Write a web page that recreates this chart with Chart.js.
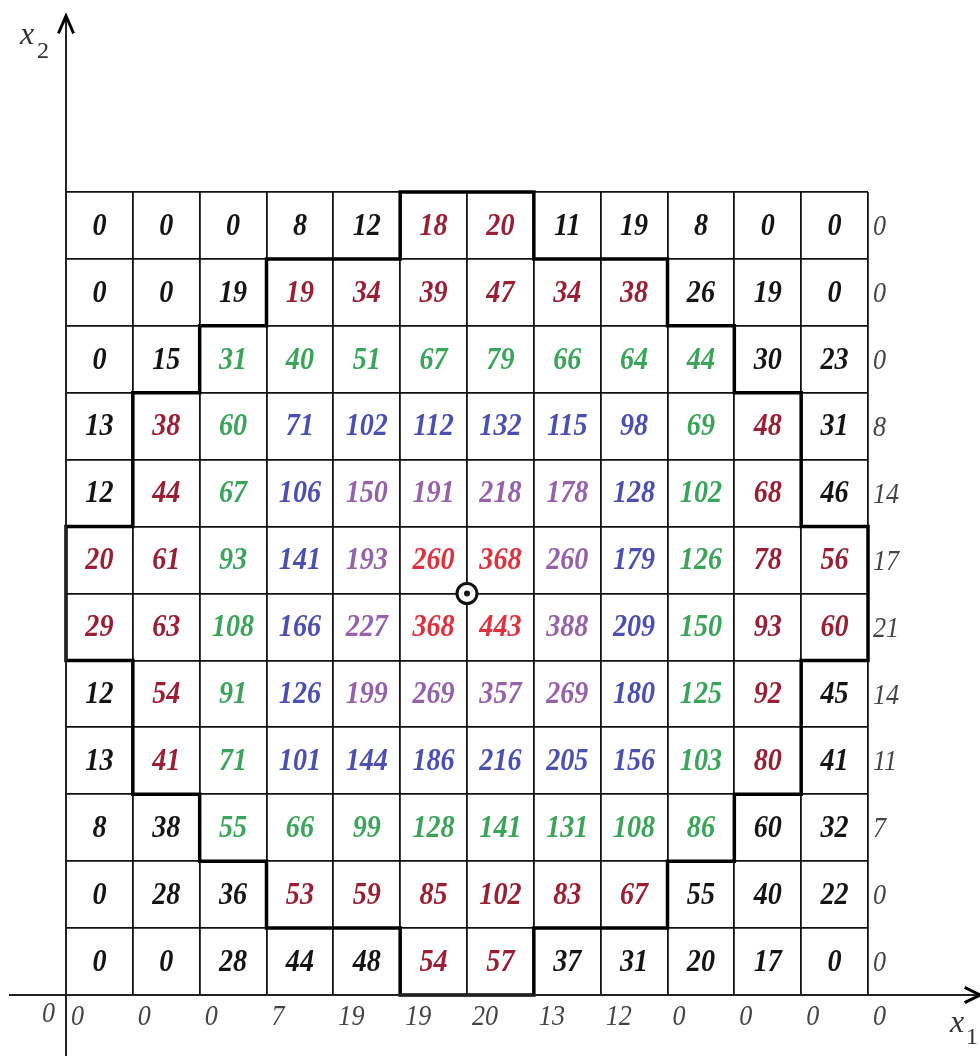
<!DOCTYPE html>
<html>
<head>
<meta charset="utf-8">
<script src="https://cdn.jsdelivr.net/npm/chart.js@4.4.1/dist/chart.umd.min.js"></script>
<style>
  html, body { margin: 0; padding: 0; background: #fff; }
  #wrap { width: 980px; height: 1056px; position: relative; }
</style>
</head>
<body>
<div id="wrap"><canvas id="myChart"></canvas></div>
<script>
// cell values, top row first
const cellValues = [
    [0, 0, 0, 8, 12, 18, 20, 11, 19, 8, 0, 0],
    [0, 0, 19, 19, 34, 39, 47, 34, 38, 26, 19, 0],
    [0, 15, 31, 40, 51, 67, 79, 66, 64, 44, 30, 23],
    [13, 38, 60, 71, 102, 112, 132, 115, 98, 69, 48, 31],
    [12, 44, 67, 106, 150, 191, 218, 178, 128, 102, 68, 46],
    [20, 61, 93, 141, 193, 260, 368, 260, 179, 126, 78, 56],
    [29, 63, 108, 166, 227, 368, 443, 388, 209, 150, 93, 60],
    [12, 54, 91, 126, 199, 269, 357, 269, 180, 125, 92, 45],
    [13, 41, 71, 101, 144, 186, 216, 205, 156, 103, 80, 41],
    [8, 38, 55, 66, 99, 128, 141, 131, 108, 86, 60, 32],
    [0, 28, 36, 53, 59, 85, 102, 83, 67, 55, 40, 22],
    [0, 0, 28, 44, 48, 54, 57, 37, 31, 20, 17, 0]
];
// colour class of each cell: 0 black, 1 dark red, 2 green, 3 blue, 4 purple, 5 red
const cellClass = [
    [0, 0, 0, 0, 0, 1, 1, 0, 0, 0, 0, 0],
    [0, 0, 0, 1, 1, 1, 1, 1, 1, 0, 0, 0],
    [0, 0, 2, 2, 2, 2, 2, 2, 2, 2, 0, 0],
    [0, 1, 2, 3, 3, 3, 3, 3, 3, 2, 1, 0],
    [0, 1, 2, 3, 4, 4, 4, 4, 3, 2, 1, 0],
    [1, 1, 2, 3, 4, 5, 5, 4, 3, 2, 1, 1],
    [1, 1, 2, 3, 4, 5, 5, 4, 3, 2, 1, 1],
    [0, 1, 2, 3, 4, 4, 4, 4, 3, 2, 1, 0],
    [0, 1, 2, 3, 3, 3, 3, 3, 3, 2, 1, 0],
    [0, 0, 2, 2, 2, 2, 2, 2, 2, 2, 0, 0],
    [0, 0, 0, 1, 1, 1, 1, 1, 1, 0, 0, 0],
    [0, 0, 0, 0, 0, 1, 1, 0, 0, 0, 0, 0]
];
const classColors = ['#141414', '#9a1f35', '#3aa45a', '#4b4fb3', '#9561aa', '#e0303c'];
// sums on the right (rows, top first) and below (at the column lines)
const rowSums = [0, 0, 0, 8, 14, 17, 21, 14, 11, 7, 0, 0];
const colSums = [0, 0, 0, 7, 19, 19, 20, 13, 12, 0, 0, 0, 0];
const originLabel = '0';
const centerPoint = {x: 6, y: 6};

const nRows = cellValues.length;
const nCols = cellValues[0].length;

// points at cell centres
const cellPoints = [];
cellValues.forEach((row, r) => {
    row.forEach((v, c) => {
        cellPoints.push({x: c + 0.5, y: nRows - r - 0.5, v: v, k: cellClass[r][c]});
    });
});

// condensed text, like the scanned figure
function tallText(ctx, txt, x, y, sx) {
    ctx.save();
    ctx.translate(x, y);
    ctx.scale(sx, 1);
    ctx.fillText(txt, 0, 0);
    ctx.restore();
}

const gridPlugin = {
    id: 'gridText',
    afterDatasetsDraw(chart) {
        const ctx = chart.ctx;
        const xs = chart.scales.x;
        const ys = chart.scales.y;
        const area = chart.chartArea;
        ctx.save();

        // bold contour between coloured and black cells
        const colored = (r, c) => r >= 0 && r < nRows && c >= 0 && c < nCols && cellClass[r][c] > 0;
        ctx.strokeStyle = '#000';
        ctx.lineWidth = 3.5;
        ctx.lineCap = 'square';
        ctx.beginPath();
        for (let r = 0; r < nRows; r++) {
            for (let c = 0; c < nCols; c++) {
                if (!colored(r, c)) continue;
                const x0 = xs.getPixelForValue(c), x1 = xs.getPixelForValue(c + 1);
                const y0 = ys.getPixelForValue(nRows - r), y1 = ys.getPixelForValue(nRows - r - 1);
                if (!colored(r - 1, c)) { ctx.moveTo(x0, y0); ctx.lineTo(x1, y0); }
                if (!colored(r + 1, c)) { ctx.moveTo(x0, y1); ctx.lineTo(x1, y1); }
                if (!colored(r, c - 1)) { ctx.moveTo(x0, y0); ctx.lineTo(x0, y1); }
                if (!colored(r, c + 1)) { ctx.moveTo(x1, y0); ctx.lineTo(x1, y1); }
            }
        }
        ctx.stroke();

        // cell numbers
        const meta = chart.getDatasetMeta(0);
        ctx.font = 'italic bold 32px "Liberation Serif"';
        ctx.textAlign = 'center';
        ctx.textBaseline = 'middle';
        meta.data.forEach((pt, i) => {
            const d = cellPoints[i];
            ctx.fillStyle = classColors[d.k];
            tallText(ctx, String(d.v), pt.x, pt.y + 1, 0.88);
        });

        // row sums
        ctx.font = 'italic 29px "Liberation Serif"';
        ctx.fillStyle = '#444';
        ctx.textAlign = 'left';
        rowSums.forEach((v, r) => {
            tallText(ctx, String(v), area.right + 5, ys.getPixelForValue(nRows - r - 0.5) + 2, 0.9);
        });
        // column sums
        colSums.forEach((v, c) => {
            tallText(ctx, String(v), xs.getPixelForValue(c) + 5, area.bottom + 22, 0.9);
        });
        tallText(ctx, originLabel, xs.getPixelForValue(0) - 24, area.bottom + 19, 0.9);

        // centre mark
        const cx = xs.getPixelForValue(centerPoint.x), cy = ys.getPixelForValue(centerPoint.y);
        ctx.fillStyle = '#fff';
        ctx.beginPath(); ctx.arc(cx, cy, 10, 0, Math.PI * 2); ctx.fill();
        ctx.lineWidth = 3;
        ctx.strokeStyle = '#111';
        ctx.stroke();
        ctx.fillStyle = '#111';
        ctx.beginPath(); ctx.arc(cx, cy, 3, 0, Math.PI * 2); ctx.fill();

        // axes with arrows
        const ox = xs.getPixelForValue(0), oy = ys.getPixelForValue(0);
        ctx.strokeStyle = '#222';
        ctx.lineWidth = 2;
        ctx.beginPath();
        ctx.moveTo(ox, 18); ctx.lineTo(ox, chart.height);
        ctx.moveTo(10, oy); ctx.lineTo(976, oy);
        ctx.stroke();
        ctx.lineWidth = 3;
        ctx.strokeStyle = '#000';
        ctx.beginPath();
        ctx.moveTo(ox - 7, 32); ctx.lineTo(ox, 16); ctx.lineTo(ox + 7, 32);
        ctx.moveTo(966, oy - 7); ctx.lineTo(980, oy); ctx.lineTo(966, oy + 7);
        ctx.stroke();

        ctx.fillStyle = '#333';
        ctx.textBaseline = 'alphabetic';
        ctx.font = 'italic 32px "Liberation Serif"';
        ctx.fillText('x', 20, 44);
        ctx.fillText('x', 950, 1032);
        ctx.font = '24px "Liberation Serif"';
        ctx.fillText('2', 37, 58);
        ctx.fillText('1', 966, 1044);
        ctx.restore();
    }
};

const ctx = document.getElementById('myChart');
new Chart(ctx, {
    type: 'scatter',
    data: {
        datasets: [{
            data: cellPoints,
            pointRadius: 0,
            pointHoverRadius: 0
        }]
    },
    options: {
        responsive: true,
        maintainAspectRatio: false,
        animation: false,
        layout: {padding: {left: 66, right: 112, top: 192, bottom: 61}},
        plugins: {legend: {display: false}, tooltip: {enabled: false}},
        scales: {
            x: {
                type: 'linear', min: 0, max: nCols,
                ticks: {display: false, stepSize: 1},
                grid: {color: '#111', lineWidth: 1.8, drawTicks: false},
                border: {display: false}
            },
            y: {
                type: 'linear', min: 0, max: nRows,
                ticks: {display: false, stepSize: 1},
                grid: {color: '#111', lineWidth: 1.8, drawTicks: false},
                border: {display: false}
            }
        }
    },
    plugins: [gridPlugin]
});
</script>
</body>
</html>
